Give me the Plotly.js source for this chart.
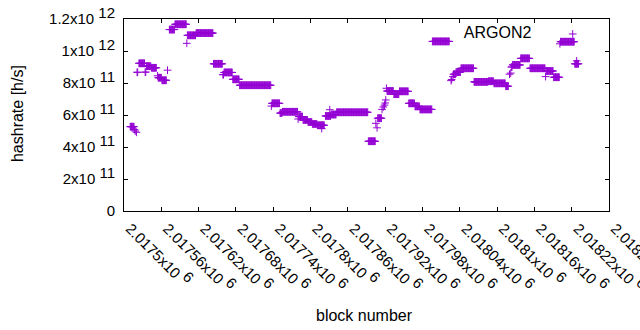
<!DOCTYPE html>
<html>
<head>
<meta charset="utf-8">
<script src="https://cdn.plot.ly/plotly-3.0.1.min.js"></script>
<style>html,body{margin:0;padding:0;background:#fff;}#chart{width:640px;height:330px;}</style>
</head>
<body>
<div id="chart"></div>
<script>
// Runs of blocks sharing the same hashrate estimate (first block, last block, value in h/s)
const runStart = [2017510,2017517,2017518,2017520,2017521,2017524,2017534,2017536,2017544,2017554,2017555,2017561,2017570,2017573,2017582,2017601,2017602,2017616,2017644,2017659,2017661,2017675,2017686,2017737,2017738,2017751,2017755,2017780,2017781,2017788,2017796,2017803,2017811,2017818,2017824,2017831,2017833,2017842,2017893,2017905,2017907,2017908,2017915,2017917,2017919,2017920,2017921,2017922,2017923,2017934,2017943,2017958,2017968,2017976,2017996,2018026,2018027,2018029,2018030,2018034,2018042,2018063,2018086,2018095,2018114,2018120,2018122,2018123,2018125,2018138,2018153,2018178,2018179,2018191,2018201,2018202,2018225,2018228];
const runEnd   = [2017516,2017517,2017518,2017520,2017522,2017533,2017535,2017543,2017552,2017554,2017560,2017568,2017570,2017581,2017600,2017601,2017615,2017643,2017658,2017660,2017674,2017685,2017736,2017737,2017750,2017754,2017779,2017780,2017787,2017795,2017802,2017810,2017822,2017818,2017832,2017831,2017841,2017892,2017904,2017905,2017907,2017914,2017915,2017917,2017919,2017920,2017921,2017922,2017933,2017942,2017957,2017967,2017975,2017995,2018023,2018026,2018027,2018029,2018033,2018041,2018062,2018085,2018094,2018113,2018118,2018120,2018122,2018124,2018137,2018152,2018177,2018178,2018190,2018200,2018201,2018224,2018231,2018228];
const runHashrate = [5.27e11,5.1e11,5.0e11,4.92e11,8.67e11,9.23e11,8.68e11,9.05e11,8.95e11,8.45e11,8.33e11,8.17e11,8.8e11,11.34e11,11.67e11,10.48e11,10.98e11,11.12e11,9.2e11,8.52e11,8.66e11,8.23e11,7.86e11,6.56e11,6.73e11,6.12e11,6.2e11,5.75e11,5.9e11,5.69e11,5.56e11,5.44e11,5.36e11,5.15e11,5.94e11,6.33e11,6.03e11,6.17e11,4.36e11,5.48e11,5.2e11,5.8e11,6.35e11,6.5e11,6.62e11,6.75e11,6.94e11,7.67e11,7.5e11,7.3e11,7.48e11,6.73e11,6.54e11,6.35e11,10.6e11,8.15e11,8.22e11,8.4e11,8.55e11,8.68e11,8.92e11,8.07e11,8.11e11,7.98e11,7.8e11,8.55e11,8.62e11,9.0e11,9.13e11,9.54e11,8.92e11,8.4e11,8.75e11,8.36e11,10.45e11,10.58e11,9.2e11,9.38e11];

const xTickVals = [2017500,2017560,2017620,2017680,2017740,2017800,2017860,2017920,2017980,2018040,2018100,2018160,2018220,2018280];
const xTickMant = ["2.0175","2.01756","2.01762","2.01768","2.01774","2.0178","2.01786","2.01792","2.01798","2.01804","2.0181","2.01816","2.01822","2.01828"];
const xTickExp = "6";
const yTickVals = [0,2e11,4e11,6e11,8e11,1e12,1.2e12];
const yTickMant = ["0","2x10","4x10","6x10","8x10","1x10","1.2x10"];
const yTickExp = ["","11","11","11","11","12","12"];

const seriesName = "ARGON2";
const xTitle = "block number";
const yTitle = "hashrate [h/s]";

const xs = [], ys = [];
for (let i = 0; i < runStart.length; i++) {
  for (let b = runStart[i]; b <= runEnd[i]; b++) { xs.push(b); ys.push(runHashrate[i]); }
}
const FONT = "Liberation Sans, Arial, sans-serif";
const sup = (e) => e ? ' <sup><span style="font-size:15px">' + e + '</span></sup>' : '';
const xTickText = xTickMant.map(m => m + 'x10' + sup(xTickExp));
const yTickText = yTickMant.map((m, i) => m + sup(yTickExp[i]));

const trace = {
  x: xs, y: ys, type: 'scatter', mode: 'markers', name: ' ',
  marker: {symbol: 'cross-thin', size: 5.5, color: '#9400D3', line: {color: '#9400D3', width: 1}},
  showlegend: true, hoverinfo: 'skip'
};
const axisCommon = {
  ticks: 'inside', ticklen: 4, tickwidth: 1, tickcolor: '#000', mirror: 'ticks', showline: true,
  linecolor: '#000', linewidth: 1, showgrid: false, zeroline: false, ticklabeloverflow: 'allow',
  tickfont: {family: FONT, size: 15, color: '#000'}
};
const layout = {
  width: 640, height: 330,
  margin: {l: 124, r: 31, t: 19, b: 119},
  paper_bgcolor: '#fff', plot_bgcolor: '#fff',
  font: {family: FONT, size: 15, color: '#000'},
  xaxis: Object.assign({}, axisCommon, {range: [2017500, 2018280], tickmode: 'array', tickvals: xTickVals, ticktext: xTickText, tickangle: 45, ticklabelshift: 6, ticklabelstandoff: 2}),
  yaxis: Object.assign({}, axisCommon, {range: [0, 1.2e12], tickmode: 'array', tickvals: yTickVals, ticktext: yTickText, ticklabelstandoff: 5}),
  showlegend: true,
  legend: {x: 0.6965, xanchor: 'left', y: 1.01, yanchor: 'top', bgcolor: 'rgba(0,0,0,0)',
    title: {text: seriesName + '&nbsp;&nbsp;&nbsp;', side: 'left', font: {family: FONT, size: 16, color: '#000'}},
    font: {family: FONT, size: 16, color: '#000'}},
  annotations: [
    {text: xTitle, xref: 'paper', yref: 'paper', x: 0.495, y: -0.542, showarrow: false, xanchor: 'center', yanchor: 'middle', font: {family: FONT, size: 16, color: '#000'}},
    {text: yTitle, xref: 'paper', yref: 'paper', x: -0.2206, y: 0.505, showarrow: false, textangle: -90, xanchor: 'center', yanchor: 'middle', font: {family: FONT, size: 16, color: '#000'}}
  ]
};
Plotly.newPlot('chart', [trace], layout, {displayModeBar: false, staticPlot: true});
</script>
</body>
</html>
